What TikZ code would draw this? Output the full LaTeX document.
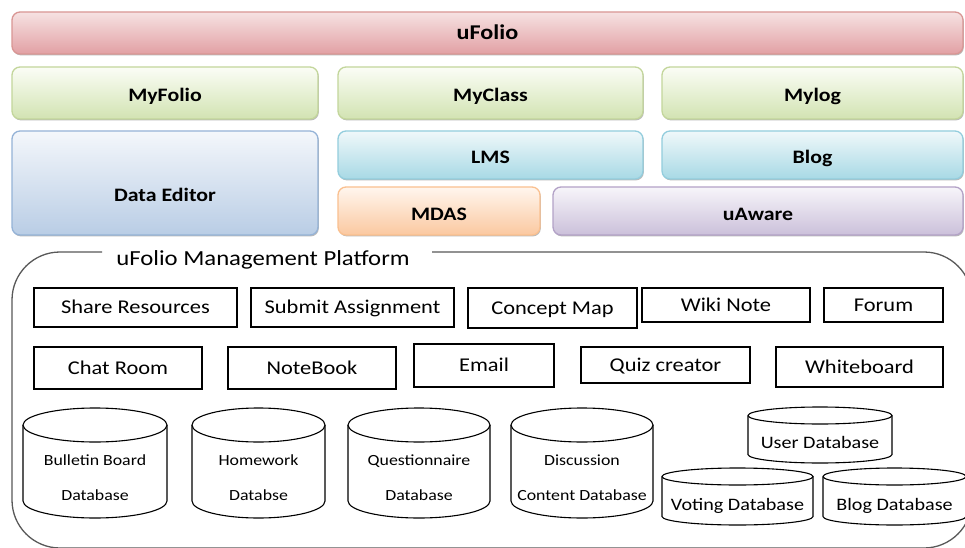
\documentclass[tikz,border=0pt]{standalone}
\usepackage{fontspec}
\usetikzlibrary{shadows}
\setmainfont{Carlito}[FakeStretch=1.15]
\definecolor{redB}{HTML}{D99694}\definecolor{redT}{HTML}{F6E2E2}\definecolor{redD}{HTML}{E2A0A4}
\definecolor{grnB}{HTML}{C3D69B}\definecolor{grnT}{HTML}{FBFDF6}\definecolor{grnD}{HTML}{D2E3B2}
\definecolor{bluB}{HTML}{95B3D7}\definecolor{bluT}{HTML}{F4F7FB}\definecolor{bluD}{HTML}{B9CDE5}
\definecolor{cyaB}{HTML}{93CDDD}\definecolor{cyaT}{HTML}{F0F8FA}\definecolor{cyaD}{HTML}{A8D9E5}
\definecolor{orgB}{HTML}{FAC08F}\definecolor{orgT}{HTML}{FFF6EE}\definecolor{orgD}{HTML}{FBC8A0}
\definecolor{purB}{HTML}{B3A2C7}\definecolor{purT}{HTML}{F7F5FA}\definecolor{purD}{HTML}{CBC0DA}
\definecolor{outl}{HTML}{595959}
\tikzset{
  bar/.style n args={3}{draw=#1, top color=#2, bottom color=#3, rounded corners=8pt,
    line width=1.3pt, inner sep=0pt, font=\bfseries\fontsize{19}{22}\selectfont,
    text height=18pt, text depth=0pt,
    drop shadow={shadow xshift=0.8pt, shadow yshift=-1.4pt, fill=black!45, opacity=0.6}},
  func/.style={draw=black, line width=1.6pt, inner sep=0pt,
    font=\fontsize{19.5}{23}\selectfont, text height=12.5pt, text depth=0pt},
  cylline/.style={draw=black, line width=1.1pt, fill=white},
  cyltext/.style={inner sep=0pt, align=center, font=\fontsize{15.5}{35}\selectfont},
  cylsmall/.style={inner sep=0pt, font=\fontsize{17.5}{21}\selectfont, text height=11.3pt, text depth=0pt},
  titletext/.style={inner sep=0pt, font=\fontsize{21.5}{25}\selectfont, text height=13.8pt, text depth=0pt},
}
\newcommand\mkcyl[5]{% x1 x2 top bottom ry
  \draw[cylline] (#1,{#3-#5}) -- (#1,{#4+#5})
     arc[start angle=180, end angle=360, x radius={((#2)-(#1))/2*1pt}, y radius={#5*1pt}]
     -- (#2,{#3-#5});
  \draw[cylline] ({((#1)+(#2))/2},{#3-#5}) ellipse[x radius={((#2)-(#1))/2*1pt}, y radius={#5*1pt}];
}
\begin{document}
\begin{tikzpicture}[x=1pt,y=1pt]
\useasboundingbox (0,0) rectangle (965,547);
\clip (0,0) rectangle (965,547);
\fill[white] (0,0) rectangle (965,547);

% top layer
\node[bar={redB}{redT}{redD}, minimum width=951pt, minimum height=42pt, font=\bfseries\fontsize{21}{25}\selectfont, text height=13.5pt] (ufolio) at (487.5,514) {uFolio};
\node[bar={grnB}{grnT}{grnD}, minimum width=306pt, minimum height=52pt] (myfolio) at (165,454) {MyFolio};
\node[bar={grnB}{grnT}{grnD}, minimum width=305pt, minimum height=52pt] (myclass) at (490.5,454) {MyClass};
\node[bar={grnB}{grnT}{grnD}, minimum width=301pt, minimum height=52pt] (mylog) at (812.5,454) {Mylog};
\node[bar={bluB}{bluT}{bluD}, minimum width=306pt, minimum height=104pt, text height=37pt] (editor) at (165,364) {Data Editor};
\node[bar={cyaB}{cyaT}{cyaD}, minimum width=305pt, minimum height=48pt] (lms) at (490.5,392) {LMS};
\node[bar={cyaB}{cyaT}{cyaD}, minimum width=301pt, minimum height=48pt] (blog) at (812.5,392) {Blog};
\node[bar={orgB}{orgT}{orgD}, minimum width=202pt, minimum height=48pt] (mdas) at (439,336) {MDAS};
\node[bar={purB}{purT}{purD}, minimum width=410pt, minimum height=48pt] (uaware) at (758,336) {uAware};

% platform outline
\draw[outl, line width=1.3pt] (102,295) -- (60,295) arc[start angle=90, end angle=180, radius=48pt]
  -- (12,47) arc[start angle=180, end angle=270, radius=48pt]
  -- (924,-1) arc[start angle=270, end angle=360, radius=48pt]
  -- (972,247) arc[start angle=0, end angle=90, radius=48pt] -- (432,295);
\node[titletext] (platform) at (263,288) {uFolio Management Platform};

% function boxes
\node[func, minimum width=203pt, minimum height=39pt] (share) at (135.5,239.5) {Share Resources};
\node[func, minimum width=203pt, minimum height=39pt] (submit) at (352.5,239.5) {Submit Assignment};
\node[func, minimum width=169pt, minimum height=40pt] (concept) at (552.5,239) {Concept Map};
\node[func, minimum width=168pt, minimum height=34pt] (wiki) at (726,242) {Wiki Note};
\node[func, minimum width=119pt, minimum height=34pt] (forum) at (883.5,242) {Forum};
\node[func, minimum width=168pt, minimum height=42pt] (chat) at (118,179) {Chat Room};
\node[func, minimum width=168pt, minimum height=42pt] (notebook) at (312,179) {NoteBook};
\node[func, minimum width=140pt, minimum height=43pt] (email) at (484,181.5) {Email};
\node[func, minimum width=169pt, minimum height=36pt] (quiz) at (665.5,182) {Quiz creator};
\node[func, minimum width=167pt, minimum height=40pt] (white) at (859.5,180) {Whiteboard};

% databases
\mkcyl{23}{167}{139}{29}{17}
\node[cyltext] (bbdb) at (95,69) {Bulletin Board\\Database};
\mkcyl{192}{325}{139}{29}{17}
\node[cyltext] (hwdb) at (258.5,69) {Homework\\Databse};
\mkcyl{348}{490}{139}{29}{17}
\node[cyltext] (qndb) at (419,69) {Questionnaire\\Database};
\mkcyl{511}{653}{139}{29}{17}
\node[cyltext] (dcdb) at (582,69) {Discussion\\Content Database};
\mkcyl{748}{892}{140}{84}{8.5}
\node[cylsmall] (userdb) at (820,104) {User Database};
\mkcyl{662}{813}{79}{22}{8.5}
\node[cylsmall] (votedb) at (737.5,42) {Voting Database};
\mkcyl{823}{966}{79}{22}{8.5}
\node[cylsmall] (blogdb) at (894.5,42) {Blog Database};
\end{tikzpicture}
\end{document}
